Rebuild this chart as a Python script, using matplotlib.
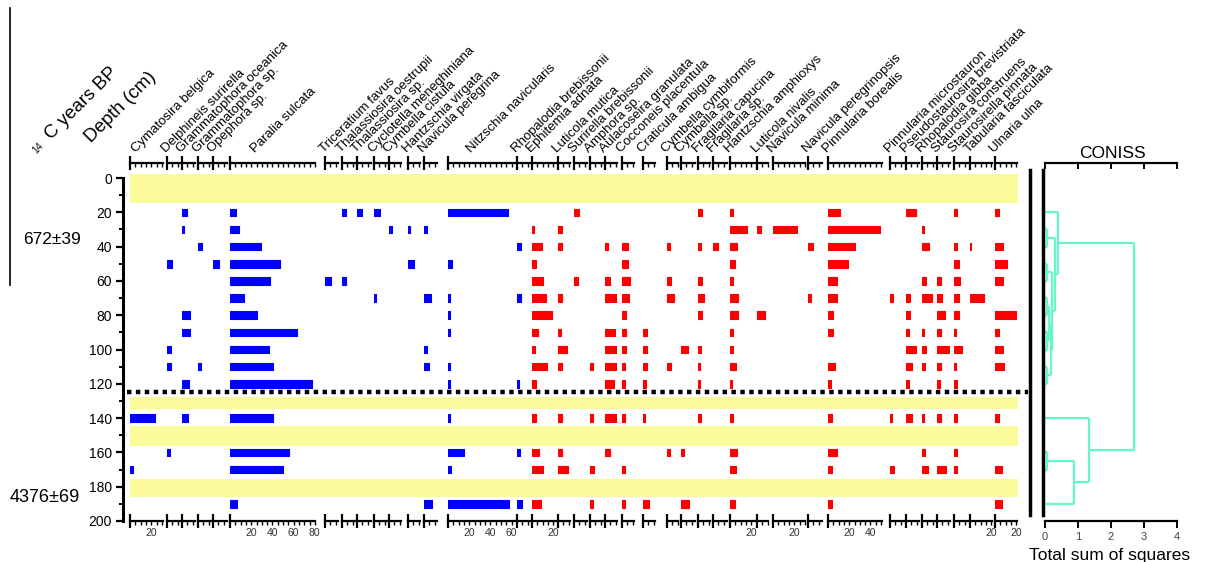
import numpy as np
import matplotlib
matplotlib.use("Agg")
import matplotlib.pyplot as plt
from matplotlib.ticker import FixedLocator, MultipleLocator, FuncFormatter, NullFormatter
from matplotlib.lines import Line2D

plt.rcParams['font.family'] = ['Liberation Sans', 'DejaVu Sans']

W, H = 1212, 562

# sample depths (cm)
depths = [20, 30, 40, 50, 60, 70, 80, 90, 100, 110, 120, 140, 160, 170, 190]

taxa = ["Cymatosira belgica", "Delphineis surirella", "Grammatophora oceanica",
        "Grammatophora sp.", "Opephora sp.", "Paralia sulcata", "Triceratium favus",
        "Thalassiosira oestrupii", "Thalassiosira sp.", "Cyclotella meneghiniana",
        "Cymbella cistula", "Hantzschia virgata", "Navicula peregrina",
        "Nitzschia navicularis", "Rhopalodia brebissonii", "Ephitemia adnata",
        "Luticola mutica", "Surirella brebissonii", "Amphora sp.",
        "Aulacoseira granulata", "Cocconeis placentula", "Craticula ambigua",
        "Cymbella cymbiformis", "Cymbella sp.", "Fragilaria capucina",
        "Fragilaria sp.", "Hantzschia amphioxys", "Luticola nivalis",
        "Navicula minima", "Navicula peregrinopsis", "Pinnularia borealis",
        "Pinnularia microstauron", "Pseudostaurosira brevistriata",
        "Rhopalodia gibba", "Staurosira construens", "Staurosirella pinnata",
        "Tabularia fasciculata", "Ulnaria ulna"]
n_marine = 15   # marine / brackish taxa come first

# relative abundance (%) per taxon, one value per sample depth
pct = [
    [0, 0, 0, 0, 0, 0, 0, 0, 0, 0, 0, 23.5, 0, 2.8, 0],
    [0, 0, 0, 5, 0, 0, 0, 0, 4, 4, 0, 0, 3, 0, 0],
    [4.4, 1.5, 0, 0, 0, 0, 8, 8, 0, 0, 7, 6, 0, 0, 0],
    [0, 0, 3.5, 0, 0, 0, 0, 0, 0, 2.5, 0, 0, 0, 0, 0],
    [0, 0, 0, 5.5, 0, 0, 0, 0, 0, 0, 0, 0, 0, 0, 0],
    [6, 8.8, 29, 47, 38, 13.5, 25, 63, 37, 41, 77, 41, 55.5, 50, 6.5],
    [0, 0, 0, 0, 5.7, 0, 0, 0, 0, 0, 0, 0, 0, 0, 0],
    [3.8, 0, 0, 0, 3.8, 0, 0, 0, 0, 0, 0, 0, 0, 0, 0],
    [4.4, 0, 0, 0, 0, 0, 0, 0, 0, 0, 0, 0, 0, 0, 0],
    [6, 0, 0, 0, 0, 1.5, 0, 0, 0, 0, 0, 0, 0, 0, 0],
    [0, 3, 0, 0, 0, 0, 0, 0, 0, 0, 0, 0, 0, 0, 0],
    [0, 2, 0, 6, 0, 0, 0, 0, 0, 0, 0, 0, 0, 0, 0],
    [0, 2.5, 0, 0, 0, 6.5, 0, 0, 2.5, 4.4, 0, 0, 0, 0, 8],
    [57, 0, 0, 4, 0, 1.5, 2, 1.5, 0, 1.5, 1.5, 1.5, 15.5, 2.5, 58],
    [0, 0, 4, 0, 0, 4, 0, 0, 0, 0, 1.9, 0, 3, 0, 4.4],
    [0, 1.5, 9, 4, 10.4, 12.9, 18.9, 5.7, 3, 14, 4, 4, 6.6, 10.4, 8.2],
    [0, 3.5, 3.5, 0, 0, 3.5, 0, 2.8, 8.8, 3.5, 0, 3.5, 3.5, 9.1, 0],
    [4.4, 0, 0, 0, 3.5, 0, 0, 0, 0, 0, 0, 0, 0, 0, 0],
    [0, 0, 0, 0, 0, 0, 0, 0, 0, 2.5, 0, 2.5, 0, 4, 2.5],
    [0, 0, 3, 0, 4.4, 10.4, 0, 9.4, 11.6, 11.6, 8.2, 10.4, 4.4, 0, 0],
    [0, 0, 5.3, 5.3, 7.5, 6.3, 3.8, 4, 4, 2.8, 2.8, 2.8, 0, 2.8, 2.8],
    [0, 0, 0, 0, 0, 0, 0, 3.5, 3.5, 3.5, 2.5, 2, 0, 0, 5.3],
    [0, 0, 2.5, 0, 4, 6.3, 0, 0, 0, 4, 0, 0, 2.8, 0, 0],
    [0, 0, 0, 0, 0, 0, 0, 0, 6.3, 0, 0, 0, 2.8, 0, 7.5],
    [4, 0, 3, 0, 4, 5.3, 4, 0, 3, 1.9, 1.9, 2.8, 0, 0, 0],
    [0, 0, 4.4, 0, 0, 0, 0, 0, 0, 0, 0, 0, 0, 0, 0],
    [2.8, 16, 6.6, 4.4, 2.5, 7.9, 7.9, 2.8, 2.8, 5.7, 1.9, 2.8, 6.6, 5.3, 4.4],
    [0, 3.5, 0, 0, 0, 0, 7.5, 0, 0, 0, 0, 0, 0, 0, 0],
    [0, 23, 0, 0, 0, 0, 0, 0, 0, 0, 0, 0, 0, 0, 0],
    [0, 0, 4.4, 0, 0, 2.8, 0, 0, 0, 0, 0, 0, 0, 0, 0],
    [11, 49, 25, 18.5, 8.8, 8.8, 5, 5, 0, 6.3, 2.8, 4, 8.8, 4, 4],
    [0, 0, 0, 0, 0, 2.5, 0, 0, 0, 0, 0, 1.9, 0, 3.8, 0],
    [9, 0, 0, 0, 0, 3.8, 4, 3, 9, 5.3, 2.8, 5.3, 0, 0, 0],
    [0, 1.5, 6.3, 0, 4, 9, 0, 2.2, 4, 2.8, 0, 1.9, 2.5, 5.3, 0],
    [0, 0, 0, 0, 3.8, 5, 7.5, 3.8, 11.3, 3.8, 2.5, 3.8, 0, 8.5, 0],
    [3, 0, 3, 4.4, 5.7, 5, 4.4, 1.9, 7.9, 1.9, 3, 3, 3, 3, 0],
    [0, 0, 1.2, 0, 0, 13.5, 0, 0, 0, 0, 0, 0, 0, 0, 0],
    [4, 0, 7.5, 11, 7.5, 0, 19.5, 4, 7.5, 8.8, 0, 3.8, 0, 6.3, 6.3],
]

# column edges in pixels
col_left = [130, 167, 182, 198, 213, 230, 325, 342, 357, 374, 389, 408, 424, 448, 517,
            532, 558, 574, 590, 605, 622, 643, 667, 681, 698, 713, 730, 757, 773, 808,
            828, 890, 906, 922, 937, 954, 970, 995]
col_right = [163, 180, 195, 211, 227, 315, 338, 355, 371, 387, 401, 420, 437, 515, 530,
             557, 570, 587, 603, 617, 634, 655, 678, 695, 710, 727, 755, 768, 805, 822,
             882, 905, 919, 935, 950, 968, 992, 1017]
label_shift = {0: 8, 5: 27, 13: 25}
px_per_pct = 1.06

# depth intervals without samples, and the zone boundary
gap_bands = [(-2.3, 14.6), (127.7, 134.7), (144.6, 156.3), (175.5, 186)]
zone_boundary = 125

# CONISS merges: (node a, node b, total sum of squares); leaves are sample indices
merges = [(1, 2, 0.05), (3, 4, 0.05), (5, 6, 0.05), (7, 8, 0.05), (9, 10, 0.05),
          (17, 18, 0.12), (20, 19, 0.18), (16, 21, 0.22), (15, 22, 0.30), (0, 23, 0.40),
          (12, 13, 0.05), (25, 14, 0.88), (11, 26, 1.33), (24, 27, 2.70)]

blue, red = "#0000FF", "#FF0000"
yellow = "#FAFA9B"
teal = "#64F7C8"

# pixel -> figure fraction helpers
def fx(px):
    return px / W

def fy(py):
    return 1 - py / H

top_px, bot_px = 163, 521
ylims = (200, -8.75)
ax_bottom = fy(bot_px)
ax_height = (bot_px - top_px) / H

fig = plt.figure(figsize=(W / 100, H / 100), dpi=100)

label_fmt = FuncFormatter(lambda v, p: f"{int(round(v))}" if v > 1 and round(v) % 20 == 0 else "")

for i, name in enumerate(taxa):
    L, R = col_left[i], col_right[i]
    ax = fig.add_axes([fx(L), ax_bottom, (R - L) / W, ax_height])
    ax.patch.set_visible(False)
    ax.set_xlim(0, (R - L) / px_per_pct)
    ax.set_ylim(*ylims)
    c = blue if i < n_marine else red
    d = [dep for dep, v in zip(depths, pct[i]) if v > 0]
    v = [v for v in pct[i] if v > 0]
    ax.barh(d, v, height=4.4, left=0, color=c, edgecolor=c, linewidth=0.8,
            joinstyle='round')
    for s in ['left', 'right', 'top']:
        ax.spines[s].set_visible(False)
    ax.spines['bottom'].set_linewidth(1.6)
    ax.set_yticks([])
    ax.xaxis.set_major_locator(FixedLocator([0]))
    ax.xaxis.set_major_formatter(NullFormatter())
    ax.xaxis.set_minor_locator(MultipleLocator(5))
    ax.xaxis.set_minor_formatter(label_fmt)
    ax.tick_params(which='major', direction='inout', length=10, width=1.6)
    ax.tick_params(which='minor', direction='out', length=3, width=1,
                   labelsize=7.5, labelcolor='#333333', pad=2)
    sec = ax.secondary_xaxis('top')
    sec.xaxis.set_major_locator(FixedLocator([0]))
    sec.xaxis.set_major_formatter(NullFormatter())
    sec.xaxis.set_minor_locator(MultipleLocator(5))
    sec.xaxis.set_minor_formatter(NullFormatter())
    sec.tick_params(which='major', direction='inout', length=10, width=1.6)
    sec.tick_params(which='minor', direction='in', length=3, width=1)
    sec.spines['top'].set_linewidth(1.6)
    fig.text(fx(L + label_shift.get(i, 1)), fy(155), name, rotation=45,
             rotation_mode='anchor', ha='left', va='bottom', fontsize=9.5)

# depth axis
dax = fig.add_axes([fx(123), ax_bottom, 0.0005, ax_height])
dax.set_ylim(*ylims)
dax.set_xticks([])
for s in ['right', 'top', 'bottom']:
    dax.spines[s].set_visible(False)
dax.spines['left'].set_bounds(0, 200)
dax.spines['left'].set_linewidth(2.2)
dax.yaxis.set_major_locator(MultipleLocator(20))
dax.yaxis.set_minor_locator(MultipleLocator(10))
dax.tick_params(which='major', length=5, width=1.6, labelsize=10, pad=3)
dax.tick_params(which='minor', length=3, width=1.4)
dax.set_yticks(range(0, 201, 20))

# overlay: sample gaps, zone boundary, frame line
oL, oR = 127, 1030
oax = fig.add_axes([fx(oL), ax_bottom, (oR - oL) / W, ax_height], zorder=5)
oax.patch.set_visible(False)
oax.set_xlim(oL, oR)
oax.set_ylim(*ylims)
oax.set_xticks([])
oax.set_yticks([])
for s in ['left', 'top', 'bottom']:
    oax.spines[s].set_visible(False)
oax.spines['right'].set_bounds(-4.7, 196.5)
oax.spines['right'].set_linewidth(2.5)
band_x0 = (130 - oL) / (oR - oL)
band_x1 = (1018 - oL) / (oR - oL)
for y0, y1 in gap_bands:
    oax.axhspan(y0, y1, band_x0, band_x1, color=yellow, lw=0)
oax.axhline(zone_boundary, 0, (1028 - oL) / (oR - oL), color='black', lw=3.2,
            dashes=(1, 1), dash_capstyle='butt')

# CONISS dendrogram
cL, c0, c4 = 1043, 1045, 1177
upx = (c4 - c0) / 4
cax = fig.add_axes([fx(cL), ax_bottom, (c4 - cL) / W, ax_height], zorder=4)
cax.patch.set_visible(False)
cax.set_xlim(-(c0 - cL) / upx, 4)
cax.set_ylim(*ylims)
cax.set_yticks([])
for s in ['right', 'top']:
    cax.spines[s].set_visible(False)
cax.spines['left'].set_bounds(-4.7, 196.5)
cax.spines['left'].set_linewidth(2.5)
cax.spines['bottom'].set_bounds(0, 4)
cax.spines['bottom'].set_linewidth(1.6)
cax.set_xticks([0, 1, 2, 3, 4])
cax.tick_params(axis='x', direction='out', length=5, width=1.4, labelsize=8,
                labelcolor='#444444', pad=3)
cax.set_xlabel("Total sum of squares", fontsize=12.5, labelpad=4)
csec = cax.secondary_xaxis('top')
csec.set_xticks([0, 1, 2, 3, 4])
csec.xaxis.set_major_formatter(NullFormatter())
csec.tick_params(direction='in', length=4, width=1.4)
csec.spines['top'].set_linewidth(1.6)
csec.spines['top'].set_bounds(0, 4)
cax.text(0.52, 1.005, "CONISS", transform=cax.transAxes, ha='center', va='bottom',
         fontsize=12.5)

ypos = list(depths)
xpos = [0.0] * len(depths)
for a, b, h in merges:
    for n in (a, b):
        cax.plot([xpos[n], h], [ypos[n], ypos[n]], color=teal, lw=1.6,
                 solid_capstyle='butt')
    cax.plot([h, h], [ypos[a], ypos[b]], color=teal, lw=1.6, solid_capstyle='butt')
    ypos.append((ypos[a] + ypos[b]) / 2)
    xpos.append(h)

# left-hand labels
fig.text(fx(38), fy(155), "14", rotation=45, rotation_mode='anchor',
         ha='left', va='bottom', fontsize=7)
fig.text(fx(54), fy(143), "C years BP", rotation=45, rotation_mode='anchor',
         ha='left', va='bottom', fontsize=13.5)
fig.text(fx(94), fy(146), "Depth (cm)", rotation=45, rotation_mode='anchor',
         ha='left', va='bottom', fontsize=13.5)
fig.text(fx(52), fy(240), "672±39", ha='center', va='center', fontsize=12.5)
fig.text(fx(45), fy(497), "4376±69", ha='center', va='center', fontsize=13)
fig.add_artist(Line2D([fx(10), fx(10)], [fy(8), fy(285)], transform=fig.transFigure,
                      color='black', lw=1.2))

fig.savefig("out.png", dpi=100)
